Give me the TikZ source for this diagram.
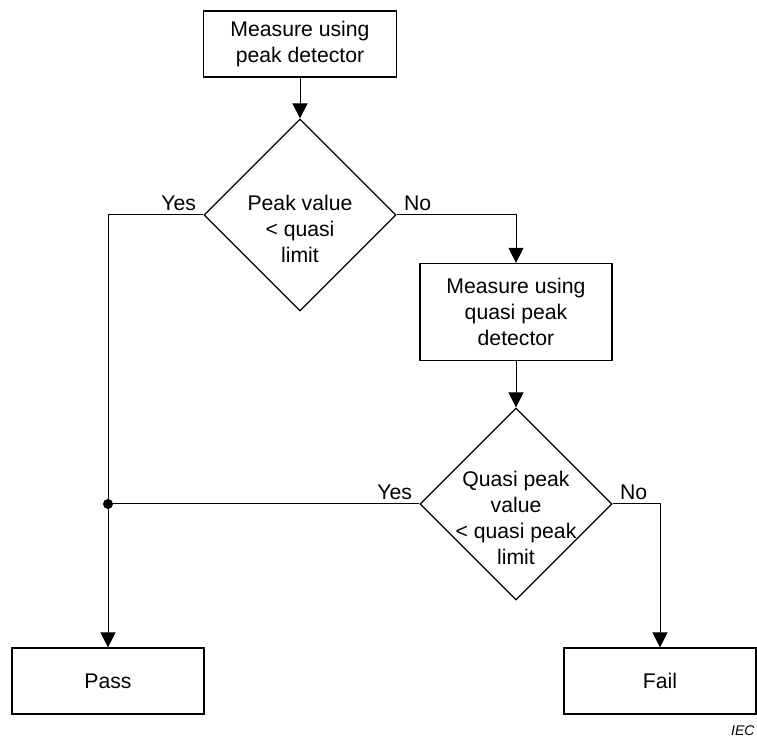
\documentclass[tikz,border=0pt]{standalone}
\usepackage{fontspec}
\setmainfont{Liberation Sans}
\usetikzlibrary{arrows.meta,shapes.geometric}

\begin{document}
\begin{tikzpicture}[x=0.5pt,y=-0.5pt,->,>={Triangle[length=7.5pt,width=7.5pt]},
  line width=0.5pt,
  process/.style={rectangle,draw,line width=0.6pt,minimum width=96.5pt,minimum height=33pt,
    align=center,font=\fontsize{10.6}{13}\selectfont},
  decision/.style={diamond,draw,line width=0.6pt,minimum width=96pt,minimum height=96pt,inner sep=0pt},
  question/.style={align=center,yshift=-7pt,font=\fontsize{10.6}{13}\selectfont},
  answer/.style={font=\fontsize{10.6}{13}\selectfont,inner xsep=3.5pt,inner ysep=2pt}]
  \useasboundingbox (0,0) rectangle (757,738);

  \node[process] (m1) at (300,44) {Measure using\\peak detector};
  \node[decision, label={[question]center:{Peak value\\< quasi\\limit}}] (d1) [below of=m1, node distance=85.5pt] {};
  \node[process, minimum width=96pt, minimum height=48.5pt] (m2) at (516,312) {Measure using\\quasi peak\\detector};
  \node[decision, label={[question]center:{Quasi peak\\value\\< quasi peak\\limit}}] (d2) [below of=m2, node distance=96pt] {};
  \node[process, minimum width=96pt] (pass) at (108,681) {Pass};
  \node[process, minimum width=96pt] (fail) [right of=pass, node distance=276pt] {Fail};
  \coordinate (join) at (pass |- d2);

  \draw (m1) -- (d1);
  \draw (d1.west) -| node[answer, pos=0, above left] {Yes} (pass);
  \draw (d1.east) -| node[answer, pos=0, above right] {No} (m2);
  \draw (m2) -- (d2);
  \draw[-] (d2.west) -- node[answer, pos=0, above left] {Yes} (join);
  \fill (join) circle (2.5pt);
  \draw (d2.east) -| node[answer, pos=0, above right] {No} (fail);

  \node[font=\itshape\fontsize{7}{8}\selectfont, anchor=base east, inner sep=0pt] (iec) at (755,735) {IEC};
\end{tikzpicture}
\end{document}
